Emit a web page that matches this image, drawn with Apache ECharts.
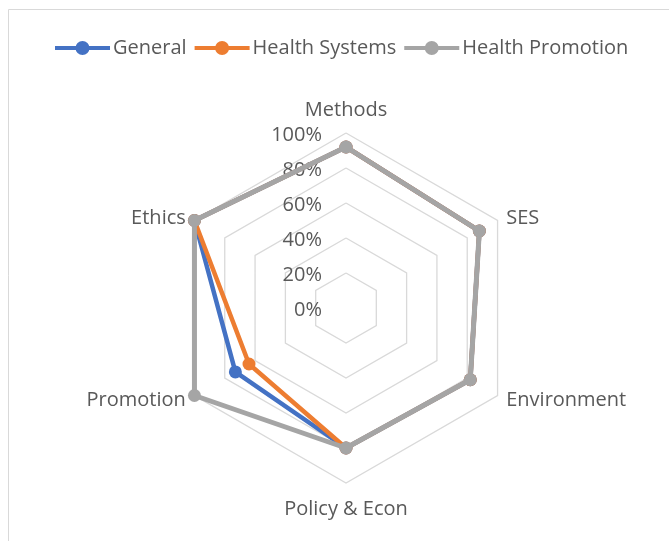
<!DOCTYPE html>
<html><head><meta charset="utf-8">
<script src="https://cdn.jsdelivr.net/npm/echarts@6/dist/echarts.min.js"></script>
<style>html,body{margin:0;padding:0;background:#fff}#c{width:669px;height:541px}</style>
</head><body><div id="c"></div>
<script>
var categories = ['Methods', 'SES', 'Environment', 'Policy & Econ', 'Promotion', 'Ethics'];
var general = [0.92, 0.88, 0.82, 0.80, 0.73, 1.00];
var healthSystems = [0.92, 0.88, 0.82, 0.80, 0.64, 1.00];
var healthPromotion = [0.92, 0.88, 0.82, 0.80, 1.00, 1.00];
var seriesNames = ['General', 'Health Systems', 'Health Promotion'];
var tickValues = [0, 0.2, 0.4, 0.6, 0.8, 1.0];

// ECharts radar lays indicators counter-clockwise; reorder so categories run clockwise
var order = [0, 5, 4, 3, 2, 1];
function ro(a){ return order.map(function(i){ return a[i]; }); }

var FONT = '"Open Sans", "Noto Sans", sans-serif';
var TXT = '#595959';
var colors = ['#4472C4', '#ED7D31', '#A5A5A5'];
var icon = 'path://M0,5 H55 V9 H0 Z M20.5,7 A7,7 0 1,1 34.5,7 A7,7 0 1,1 20.5,7 Z';

var chart = echarts.init(document.getElementById('c'), null, {renderer: 'canvas'});
var values = [general, healthSystems, healthPromotion];
var nameStyle = {color: TXT, fontFamily: FONT, fontSize: 20};
chart.setOption({
  animation: false,
  color: colors,
  graphic: [{type: 'rect', shape: {x: 8.5, y: 9.5, width: 800, height: 700}, style: {fill: 'none', stroke: '#d9d9d9', lineWidth: 1}, silent: true}],
  legend: {
    left: 50, top: 33, itemWidth: 55, itemHeight: 14, itemGap: 8,
    textStyle: {fontFamily: FONT, fontSize: 20, color: TXT, padding: [0,0,0,-2]},
    data: seriesNames.map(function(n){ return {name: n, icon: icon}; })
  },
  radar: {
    center: [346, 308], radius: 175, startAngle: 90, splitNumber: 5, shape: 'polygon',
    indicator: ro(categories).map(function(c){ return {name: c, min: 0, max: 1}; }),
    axisName: {
      color: TXT, fontFamily: FONT, fontSize: 20,
      formatter: function(n){
        if (n === 'Policy & Econ') return '{p|' + n + '}';
        if (n === 'Methods') return '{m|' + n + '}';
        if (n === 'SES' || n === 'Ethics') return '{s|' + n + '}';
        return '{a|' + n + '}';
      },
      rich: {
        a: nameStyle,
        p: Object.assign({padding: [6, 0, 0, 0]}, nameStyle),
        m: Object.assign({padding: [0, 0, 3, 0]}, nameStyle),
        s: Object.assign({padding: [6, 0, 0, 0]}, nameStyle)
      }
    },
    nameGap: 10,
    axisLine: {show: false},
    axisTick: {show: false},
    splitLine: {lineStyle: {color: '#d9d9d9', width: 1.3}},
    splitArea: {show: false}
  },
  grid: {left: 346, top: 135, height: 175, width: 1, containLabel: false},
  xAxis: {type: 'value', show: false},
  yAxis: {type: 'value', min: 0, max: 1, interval: 0.2,
    axisLine: {show: false}, axisTick: {show: false}, splitLine: {show: false},
    axisLabel: {margin: 24, color: TXT, fontFamily: FONT, fontSize: 20,
      formatter: function(v){ return Math.round(v*100) + '%'; }}},
  series: values.map(function(v, i){
    return {
      type: 'radar', name: seriesNames[i], z: 2 + i,
      symbol: 'circle', symbolSize: 13,
      lineStyle: {width: i === 2 ? 5 : 4.5, color: colors[i]},
      itemStyle: {color: colors[i]},
      data: [{value: ro(v), name: seriesNames[i]}]
    };
  })
});
</script></body></html>
